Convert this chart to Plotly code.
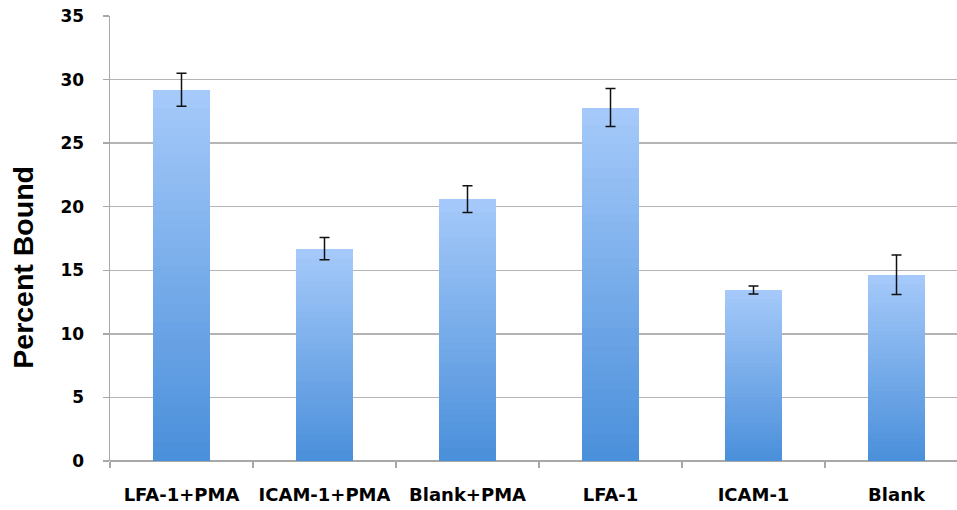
import plotly.graph_objects as go

categories = ["LFA-1+PMA", "ICAM-1+PMA", "Blank+PMA", "LFA-1", "ICAM-1", "Blank"]
values = [29.2, 16.7, 20.6, 27.8, 13.45, 14.65]
errors = [1.3, 0.87, 1.05, 1.5, 0.32, 1.55]
y_ticks = [0, 5, 10, 15, 20, 25, 30, 35]
y_title = "Percent Bound"

# gradient colours (bottom -> top), drawn as stacked bands within each bar
bottom_rgb = (74, 143, 218)
top_rgb = (166, 202, 250)
n_bands = 40

TICK_FONT = "DejaVu Sans, Verdana, sans-serif"
TITLE_FONT = "Liberation Sans, Arial, sans-serif"

W, H = 957, 510
L, R, T, B = 110, 0, 16, 48.5
plot_w, plot_h = W - L - R, H - T - B

fig = go.Figure()
for k in range(n_bands):
    t = (k + 0.5) / n_bands
    c = tuple(round(bottom_rgb[j] + (top_rgb[j] - bottom_rgb[j]) * t) for j in range(3))
    fig.add_trace(go.Bar(
        x=categories,
        y=[v / n_bands for v in values],
        width=0.4,
        marker=dict(color="rgb(%d,%d,%d)" % c, line=dict(width=0)),
        showlegend=False,
        hoverinfo="skip",
    ))

fig.add_trace(go.Scatter(
    x=categories, y=values, mode="markers",
    marker=dict(size=1, opacity=0),
    error_y=dict(type="data", array=errors, visible=True, color="#111111", thickness=1.5, width=5),
    showlegend=False, hoverinfo="skip",
))

fig.add_annotation(
    text=y_title, textangle=-90,
    xref="paper", yref="paper",
    x=(23 - L) / plot_w, y=(H - B - 268) / plot_h,
    xanchor="center", yanchor="middle", showarrow=False,
    font=dict(size=28.5, family=TITLE_FONT, weight="bold", color="#000000"),
)

fig.update_layout(
    width=W, height=H,
    barmode="stack", bargap=0,
    paper_bgcolor="white", plot_bgcolor="white",
    margin=dict(l=L, r=R, t=T, b=B, autoexpand=False),
    font=dict(family=TICK_FONT, color="#000000"),
    hovermode=False,
    xaxis=dict(
        type="category",
        range=[-0.5, 5.423],
        showgrid=False,
        showline=False,
        ticks="outside", tickson="boundaries", ticklen=6, tickcolor="#a8a8a8", tickwidth=1.5,
        tickfont=dict(size=18, family=TICK_FONT, weight="bold"),
        ticklabelstandoff=21,
        ticklabeloverflow="allow",
        zeroline=False,
        automargin=False,
    ),
    yaxis=dict(
        range=[0, 35.001],
        tickvals=y_ticks,
        showgrid=True, gridcolor="#b4b4b4", gridwidth=1.5,
        showline=True, linecolor="#a8a8a8", linewidth=1.5,
        ticks="outside", ticklen=6, tickcolor="#a8a8a8", tickwidth=1.5,
        tickfont=dict(size=17, family=TICK_FONT, weight="bold"),
        ticklabelstandoff=15,
        ticklabeloverflow="allow",
        zeroline=True, zerolinecolor="#a8a8a8", zerolinewidth=1.5,
        automargin=False,
    ),
)

fig.write_html(
    "out.html",
    config={"displayModeBar": False, "staticPlot": True},
    post_script="document.body.style.margin='0';document.body.style.overflow='hidden';",
)
